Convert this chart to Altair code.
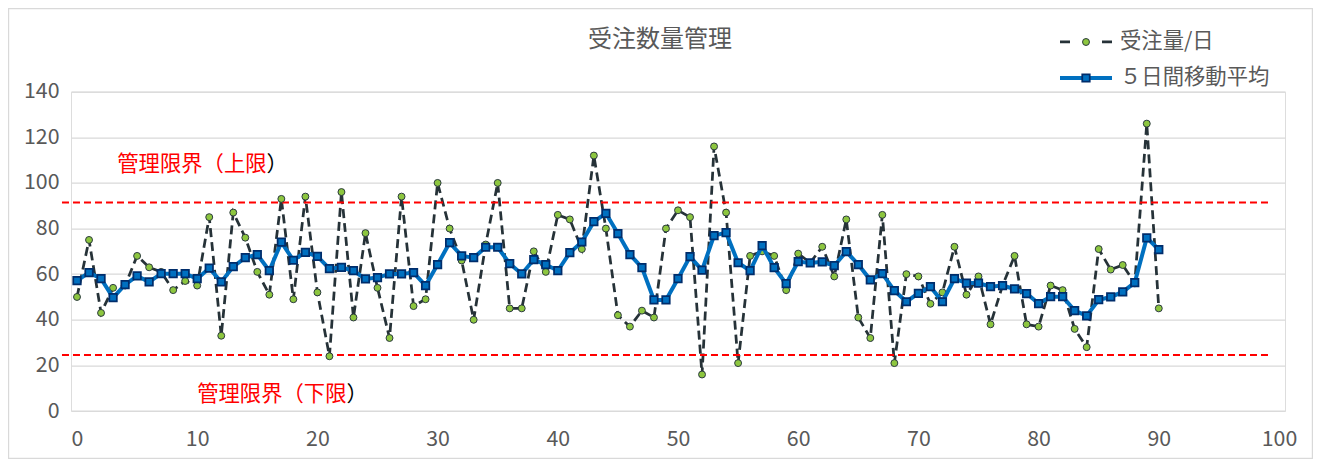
import altair as alt
import pandas as pd

TITLE = "受注数量管理"
SERIES_DAILY = "受注量/日"
SERIES_MA = "５日間移動平均"
UCL_LABEL = "管理限界（上限"
LCL_LABEL = "管理限界（下限"
CLOSE_PAREN = "）"

day = list(range(91))
daily = [50, 75, 43, 54, 55, 68, 63, 61, 53, 57, 55, 85, 33, 87, 76, 61, 51, 93, 49, 94,
         52, 24, 96, 41, 78, 54, 32, 94, 46, 49, 100, 80, 66, 40, 73, 100, 45, 45, 70, 61,
         86, 84, 71, 112, 80, 42, 37, 44, 41, 80, 88, 85, 16, 116, 87, 21, 68, 70, 68, 53,
         69, 65, 72, 59, 84, 41, 32, 86, 21, 60, 59, 47, 52, 72, 51, 59, 38, 55, 68, 38,
         37, 55, 53, 36, 28, 71, 62, 64, 56, 126, 45]
moving_avg = [57.2, 60.7, 58.0, 49.7, 55.4, 59.2, 56.6, 60.2, 60.2, 60.2, 58.0, 62.6, 56.6, 63.3,
              67.2, 68.6, 61.5, 74.0, 66.1, 69.6, 67.8, 62.4, 63.0, 61.5, 57.9, 58.5, 60.1, 60.1,
              60.7, 55.0, 64.2, 73.8, 68.0, 67.2, 71.8, 71.8, 64.6, 60.1, 66.4, 64.2, 61.5, 69.4,
              74.1, 83.0, 86.7, 77.8, 68.6, 62.9, 48.7, 48.7, 58.0, 67.7, 61.8, 76.9, 78.2, 65.0,
              61.5, 72.5, 62.9, 55.8, 65.5, 64.9, 65.4, 63.7, 69.9, 64.2, 57.5, 60.2, 52.8, 47.9,
              51.6, 54.5, 47.9, 58.0, 56.1, 56.1, 54.5, 55.0, 53.5, 51.5, 47.1, 50.1, 50.1, 44.0,
              41.7, 48.8, 50.0, 52.2, 56.3, 75.9, 70.8]
limit_values = [91.4, 24.6]
limit_from = [-1.25, -1.25]
limit_to = [99.4, 99.2]
x_ticks = list(range(0, 101, 10))
y_ticks = list(range(0, 141, 20))
label_x = [3.35, 10.0]
label_y = [107.9, 7.0]
labels = [UCL_LABEL, LCL_LABEL]

JP = "Noto Sans CJK JP"
TXT = "#595959"
FS = 21.33

df = pd.DataFrame({"day": day, "daily": daily, "ma": moving_avg})
lim_df = pd.DataFrame({"y": limit_values, "x0": limit_from, "x1": limit_to})
ann_df = pd.DataFrame({"x": label_x, "y": label_y, "label": labels})
title_df = pd.DataFrame({"t": [TITLE]})

xscale = alt.Scale(domain=[-0.5, 100.5], nice=False, zero=False)
yscale = alt.Scale(domain=[0, 140], nice=False, zero=True)
xaxis = alt.Axis(values=x_ticks, grid=False, domain=False, ticks=False, labelPadding=17,
                 labelFontSize=FS, labelFont=JP, labelColor=TXT, title=None, format="d")
yaxis = alt.Axis(values=y_ticks, grid=True, gridColor="#D9D9D9", gridWidth=1.2, domain=False,
                 ticks=False, labelPadding=12, labelFontSize=FS, labelFont=JP, labelColor=TXT,
                 title=None, format="d")

base = alt.Chart(df)
X = alt.X("day:Q", scale=xscale, axis=xaxis)

daily_line = base.mark_line(color="#263238", strokeWidth=2.75, strokeDash=[9, 5]).encode(
    x=X, y=alt.Y("daily:Q", scale=yscale, axis=yaxis))
daily_pts = base.mark_point(shape="circle", filled=True, size=48, fill="#8DC63F",
                            stroke="#2B3A3F", strokeWidth=1, opacity=1).encode(
    x="day:Q", y="daily:Q")
ma_line = base.mark_line(color="#0070C0", strokeWidth=4).encode(x="day:Q", y="ma:Q")
ma_pts = base.mark_point(shape="square", filled=True, size=56, fill="#0070C0",
                         stroke="#002D6B", strokeWidth=1.75, opacity=1).encode(
    x="day:Q", y="ma:Q")

limits = alt.Chart(lim_df).mark_rule(color="#FF0000", strokeWidth=2, strokeDash=[7, 4]).encode(
    x="x0:Q", x2="x1:Q", y="y:Q")

ann_red = alt.Chart(ann_df).mark_text(align="left", baseline="middle", font=JP, fontSize=FS,
                                      color="#FF0000").encode(x="x:Q", y="y:Q", text="label:N")
ann_paren = alt.Chart(ann_df).mark_text(align="left", baseline="middle", font=JP, fontSize=FS,
                                        color="#000000", dx=7 * FS).encode(
    x="x:Q", y="y:Q", text=alt.value(CLOSE_PAREN))

# chart title
title_mark = alt.Chart(title_df).mark_text(align="center", baseline="middle", font=JP,
                                           fontSize=24, color=TXT).encode(
    x=alt.value(589), y=alt.value(-51.7), text="t:N")

# outer chart border
border = alt.Chart(title_df).mark_rect(fill="white", fillOpacity=0, stroke="#D9D9D9",
                                       strokeWidth=1.2).encode(
    x=alt.value(-62.4), x2=alt.value(1241.4), y=alt.value(-83.1), y2=alt.value(366.7))

# legend (drawn by hand, top right)
leg1_y, leg2_y = -49.7, -13.7
leg_x0, leg_x1, leg_mx, leg_tx = 989, 1041, 1015, 1049
leg_df = pd.DataFrame({"label": [SERIES_DAILY]})
leg_df2 = pd.DataFrame({"label": [SERIES_MA]})
leg1_line = alt.Chart(leg_df).mark_rule(color="#263238", strokeWidth=2.75, strokeDash=[10, 32]).encode(
    x=alt.value(leg_x0), x2=alt.value(leg_x1), y=alt.value(leg1_y))
leg1_pt = alt.Chart(leg_df).mark_point(shape="circle", filled=True, size=48, fill="#8DC63F",
                                       stroke="#2B3A3F", strokeWidth=1, opacity=1).encode(
    x=alt.value(leg_mx), y=alt.value(leg1_y))
leg1_txt = alt.Chart(leg_df).mark_text(align="left", baseline="middle", font=JP, fontSize=FS,
                                       color=TXT).encode(
    x=alt.value(leg_tx), y=alt.value(leg1_y), text="label:N")
leg2_line = alt.Chart(leg_df2).mark_rule(color="#0070C0", strokeWidth=4).encode(
    x=alt.value(leg_x0), x2=alt.value(leg_x1), y=alt.value(leg2_y))
leg2_pt = alt.Chart(leg_df2).mark_point(shape="square", filled=True, size=56, fill="#0070C0",
                                        stroke="#002D6B", strokeWidth=1.75, opacity=1).encode(
    x=alt.value(leg_mx), y=alt.value(leg2_y))
leg2_txt = alt.Chart(leg_df2).mark_text(align="left", baseline="middle", font=JP, fontSize=FS,
                                        color=TXT).encode(
    x=alt.value(leg_tx), y=alt.value(leg2_y), text="label:N")

chart = alt.layer(
    border, daily_line, limits, daily_pts, ma_line, ma_pts, ann_red, ann_paren, title_mark,
    leg1_line, leg1_pt, leg1_txt, leg2_line, leg2_pt, leg2_txt,
).properties(
    width=1214, height=319.3,
    autosize=alt.AutoSizeParams(type="none"),
    padding={"left": 63, "top": 83.7, "right": 28, "bottom": 48},
).configure_view(stroke=None).configure(background="white")

chart.save("out.html", embed_options={"renderer": "svg", "actions": False})
